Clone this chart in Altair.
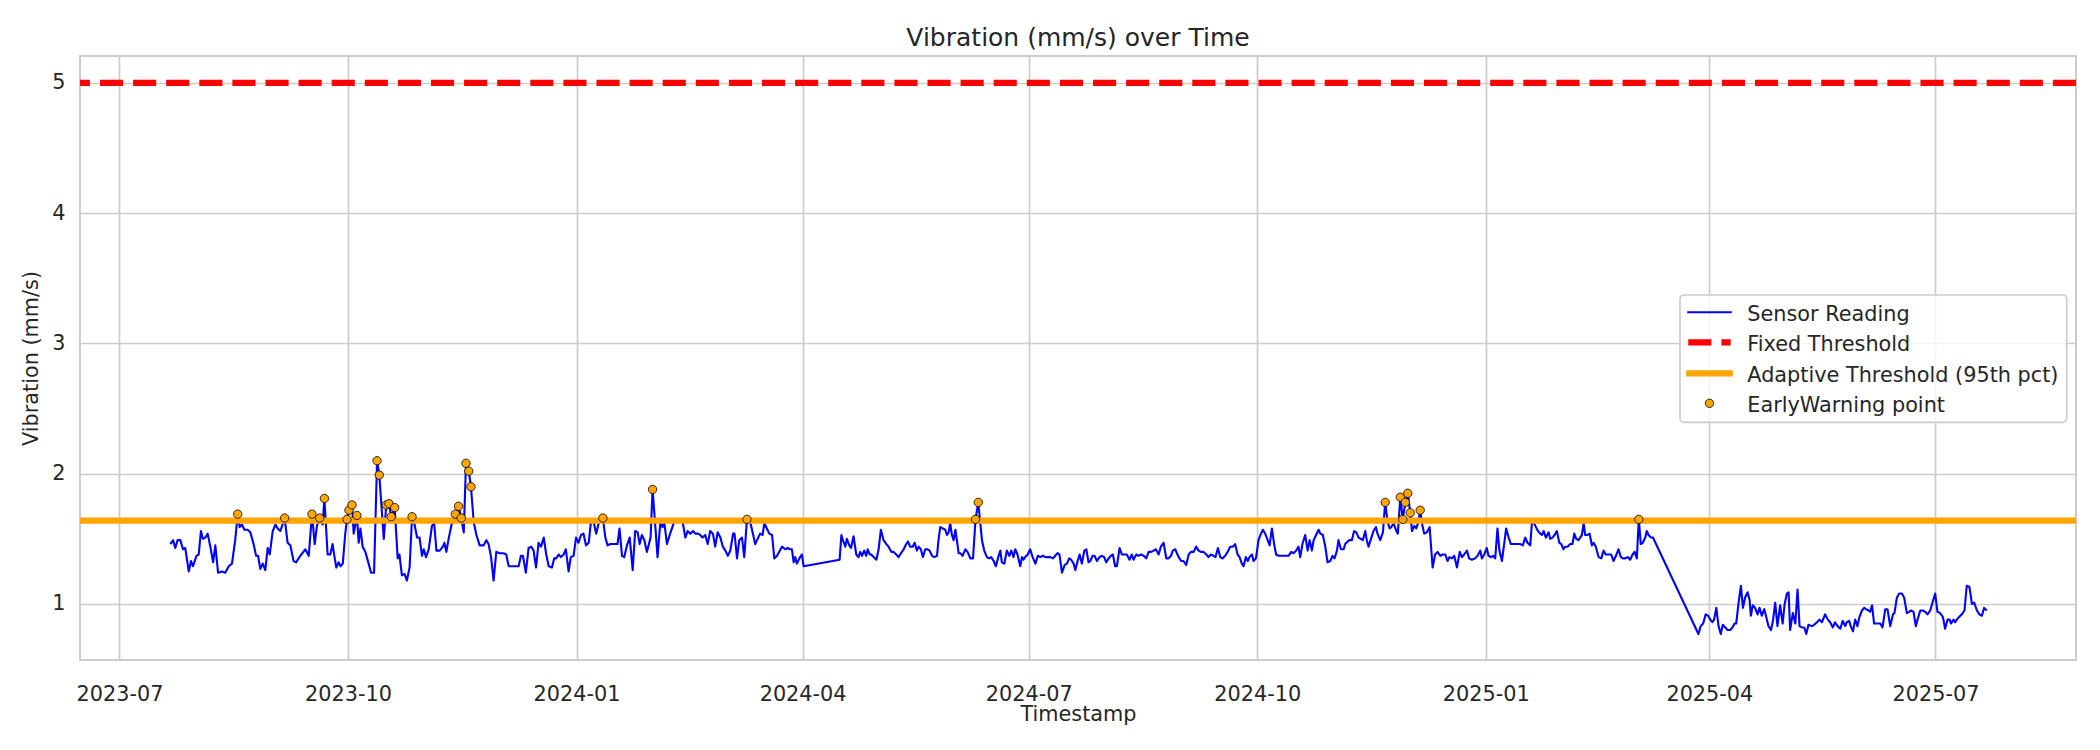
import altair as alt
import pandas as pd

# ---------------- text ----------------
title_text = "Vibration (mm/s) over Time"
x_title = "Timestamp"
y_title = "Vibration (mm/s)"
legend_labels = ["Sensor Reading", "Fixed Threshold",
                 "Adaptive Threshold (95th pct)", "EarlyWarning point"]

# ---------------- thresholds / ticks ----------------
fixed_threshold = 5.0
adaptive_threshold = 1.64
x_tick_labels = ["2023-07", "2023-10", "2024-01", "2024-04", "2024-07",
                 "2024-10", "2025-01", "2025-04", "2025-07"]
y_ticks = [1, 2, 3, 4, 5]

# ---------------- readings (days since 2023-07-01, mm/s) ----------------
base_date = "2023-07-01"

seg1_day = [20.5, 21.6, 22.5, 23.4, 24.5, 25.6, 26.5, 27.9, 28.8, 29.6,
            31.0, 31.9, 32.8, 33.6, 34.6, 35.5, 36.6, 37.7, 38.6, 39.7,
            41.3, 42.6, 44.0, 45.3, 46.6, 47.6, 48.4, 49.3, 50.3, 51.6,
            52.7, 54.0, 55.0, 55.8, 56.7, 57.7, 58.7, 59.7, 60.5, 61.7,
            62.8, 63.7, 64.8, 66.5, 67.7, 68.8, 70.1, 71.1, 72.8, 74.8,
            76.2, 77.5, 78.6, 79.5, 80.6, 81.8, 82.5, 83.8, 84.9, 85.8,
            86.5, 87.3, 88.2, 89.0, 89.9, 90.9, 91.6, 92.4, 93.6, 94.3,
            95.6, 96.3, 97.0, 97.9, 99.0, 100.3, 101.3, 102.5, 103.7, 104.6,
            106.4, 107.4, 108.5, 109.4, 110.8, 112.0, 112.7, 113.7, 114.8, 115.7,
            116.8, 117.8, 118.8, 119.8, 120.8, 121.8, 122.5, 123.4, 124.5, 125.8,
            126.7, 127.6, 128.9, 130.2, 130.8, 131.6, 132.5, 133.9, 135.2, 136.5,
            137.6, 138.6, 139.5, 140.6, 141.5, 142.6, 143.7, 145.0]
seg1_val = [1.46, 1.49, 1.43, 1.49, 1.49, 1.42, 1.43, 1.25, 1.33, 1.29,
            1.37, 1.38, 1.56, 1.50, 1.51, 1.54, 1.44, 1.32, 1.45, 1.24,
            1.25, 1.24, 1.29, 1.31, 1.49, 1.69, 1.59, 1.61, 1.57, 1.57,
            1.55, 1.46, 1.37, 1.37, 1.27, 1.31, 1.26, 1.43, 1.38, 1.56,
            1.61, 1.58, 1.56, 1.66, 1.47, 1.45, 1.33, 1.32, 1.37, 1.42,
            1.37, 1.69, 1.46, 1.60, 1.66, 1.61, 1.81, 1.38, 1.38, 1.46,
            1.37, 1.28, 1.32, 1.29, 1.31, 1.54, 1.65, 1.72, 1.76, 1.54,
            1.68, 1.47, 1.58, 1.44, 1.40, 1.31, 1.24, 1.24, 2.10, 1.99,
            1.50, 1.76, 1.77, 1.67, 1.74, 1.35, 1.38, 1.22, 1.23, 1.18,
            1.28, 1.67, 1.61, 1.51, 1.51, 1.37, 1.42, 1.36, 1.42, 1.60,
            1.62, 1.41, 1.41, 1.44, 1.47, 1.40, 1.50, 1.63, 1.69, 1.75,
            1.66, 1.55, 2.08, 2.02, 1.90, 1.63, 1.53, 1.45]

seg2_day = [146.6, 147.7, 148.6, 149.6, 150.6, 151.7, 153.0, 154.6, 155.7, 156.7,
            158.7, 160.7, 161.6, 162.4, 163.6, 164.7, 165.8, 166.7, 167.7, 168.7,
            169.7, 170.8, 171.8, 172.8, 174.1, 175.0, 175.8, 176.8, 177.7, 178.8,
            179.7, 180.8, 181.7, 182.8, 183.8, 184.8, 185.8, 186.8, 187.8, 188.9,
            189.8, 190.9, 191.9, 192.9, 194.6, 195.6, 196.5, 197.6, 199.6, 200.5,
            201.3, 202.3, 203.2, 204.3, 205.4, 206.6, 207.6, 208.6, 209.4, 210.3,
            211.3, 212.3, 213.0, 213.8, 214.6, 215.7, 216.6, 217.7, 218.6, 219.3,
            220.4, 221.5, 222.4, 223.3, 224.4, 225.8, 226.7, 227.8, 228.7, 229.8,
            230.9, 231.8, 232.9, 233.8, 234.7, 235.8, 236.8, 237.8, 238.9, 239.8,
            240.8, 241.9, 242.9, 243.9, 244.9, 245.9, 247.0, 247.6, 248.6, 249.5,
            250.6, 251.5, 252.6, 253.9, 255.0, 255.9, 256.9, 257.9, 258.9, 259.6,
            260.6, 261.6, 262.7, 263.6, 264.7, 266.7]
seg2_val = [1.45, 1.49, 1.46, 1.36, 1.18, 1.40, 1.39, 1.39, 1.38, 1.29,
            1.29, 1.29, 1.37, 1.37, 1.24, 1.43, 1.44, 1.41, 1.28, 1.47,
            1.44, 1.51, 1.38, 1.29, 1.28, 1.35, 1.35, 1.38, 1.36, 1.38,
            1.42, 1.25, 1.36, 1.37, 1.51, 1.47, 1.53, 1.54, 1.45, 1.47,
            1.63, 1.63, 1.54, 1.62, 1.66, 1.51, 1.45, 1.46, 1.46, 1.46,
            1.58, 1.37, 1.36, 1.45, 1.51, 1.26, 1.56, 1.55, 1.46, 1.53,
            1.49, 1.40, 1.45, 1.51, 1.88, 1.60, 1.36, 1.62, 1.59, 1.63,
            1.46, 1.53, 1.58, 1.63, 1.63, 1.63, 1.63, 1.51, 1.56, 1.54,
            1.56, 1.54, 1.54, 1.53, 1.51, 1.53, 1.46, 1.56, 1.54, 1.44,
            1.55, 1.51, 1.44, 1.41, 1.37, 1.41, 1.54, 1.54, 1.35, 1.49,
            1.51, 1.36, 1.65, 1.63, 1.54, 1.46, 1.50, 1.54, 1.53, 1.62,
            1.58, 1.54, 1.53, 1.35, 1.37, 1.44]

seg3_day = [268.0, 269.0, 270.0, 270.7, 271.4, 272.0, 272.7, 273.7, 274.7, 275.4,
            289.9, 290.6, 291.2, 292.2, 292.8, 293.8, 294.5, 295.5, 296.6, 297.5,
            298.2, 298.9, 299.8, 300.6, 301.2, 302.0, 302.6, 303.6, 304.7, 305.6,
            306.5, 307.6, 308.7, 309.6, 310.7, 311.6, 312.7, 313.6, 314.6, 315.7,
            316.7, 317.4, 318.3, 319.3, 320.1, 321.0, 321.7, 322.6, 323.4, 324.4,
            325.3, 326.1, 327.1, 328.0, 329.1, 329.7, 330.4, 331.4, 332.4, 333.1,
            333.8, 334.4, 335.1, 335.8, 336.5, 337.1, 337.8, 338.5, 339.4, 340.5,
            341.4, 342.5, 343.6, 344.6, 345.7, 347.2, 348.1, 349.2, 350.1, 350.9,
            351.9, 352.8, 353.9, 354.6, 355.2, 356.2, 357.2, 358.2, 359.0, 359.9,
            360.6, 361.5, 362.6, 363.3, 363.9, 364.6, 365.6, 366.6, 367.6, 368.7,
            369.7, 370.7, 371.7, 372.7, 373.7, 374.7, 375.8, 376.7, 377.6, 378.4,
            379.4, 380.5, 381.4, 382.3, 383.1, 384.1, 384.8, 385.7, 386.5, 387.4,
            388.4, 389.2, 390.1, 390.8, 391.7, 392.5, 393.5, 394.5]
seg3_val = [1.42, 1.43, 1.42, 1.42, 1.32, 1.36, 1.31, 1.35, 1.38, 1.29,
            1.34, 1.53, 1.49, 1.44, 1.50, 1.45, 1.43, 1.52, 1.38, 1.36,
            1.40, 1.37, 1.41, 1.37, 1.42, 1.38, 1.38, 1.36, 1.34, 1.42,
            1.57, 1.49, 1.46, 1.44, 1.40, 1.40, 1.38, 1.36, 1.39, 1.42,
            1.46, 1.48, 1.44, 1.44, 1.47, 1.41, 1.44, 1.42, 1.36, 1.42,
            1.42, 1.41, 1.37, 1.36, 1.37, 1.49, 1.59, 1.58, 1.57, 1.53,
            1.55, 1.62, 1.53, 1.49, 1.57, 1.49, 1.39, 1.39, 1.37, 1.42,
            1.40, 1.35, 1.35, 1.65, 1.78, 1.49, 1.41, 1.36, 1.35, 1.36,
            1.33, 1.29, 1.37, 1.41, 1.32, 1.31, 1.41, 1.37, 1.41, 1.36,
            1.42, 1.38, 1.29, 1.36, 1.34, 1.36, 1.38, 1.42, 1.36, 1.31,
            1.37, 1.36, 1.37, 1.36, 1.36, 1.36, 1.35, 1.37, 1.39, 1.38,
            1.24, 1.30, 1.31, 1.35, 1.34, 1.31, 1.26, 1.33, 1.38, 1.31,
            1.41, 1.42, 1.32, 1.33, 1.37, 1.37, 1.33, 1.36]

seg4_day = [395.5, 396.4, 397.2, 398.2, 399.1, 399.9, 400.8, 401.5, 402.6, 403.5,
            404.5, 405.5, 406.6, 407.5, 408.2, 409.3, 410.2, 411.2, 412.3, 413.3,
            414.3, 415.3, 416.3, 417.2, 418.3, 419.2, 420.3, 421.4, 422.3, 423.3,
            424.0, 425.0, 425.9, 426.7, 427.4, 428.3, 429.4, 430.4, 431.3, 432.4,
            433.4, 434.4, 435.3, 436.4, 437.5, 438.4, 439.3, 440.4, 441.2, 442.2,
            443.1, 444.0, 445.1, 446.1, 447.1, 448.2, 449.1, 450.1, 450.9, 451.8,
            452.5, 453.4, 454.2, 454.9, 455.9, 456.5, 457.5, 458.5, 459.5, 460.3,
            461.2, 462.2, 463.0, 463.9, 464.8, 465.6, 466.6, 468.3, 470.6, 471.7,
            472.6, 473.7, 474.6, 475.3, 476.2, 477.3, 478.3, 479.1, 480.0, 480.7,
            481.7, 482.7, 483.4, 484.4, 485.4, 486.3, 487.4, 488.3, 489.1, 490.1,
            490.7, 491.7, 492.8, 493.4, 494.4, 495.2, 496.1, 497.0, 497.9, 498.8,
            499.7, 500.5, 501.5, 502.1, 502.8, 503.8, 504.8, 505.8, 506.4, 507.5,
            508.6, 509.5, 510.5, 511.3, 511.9, 512.9, 513.8, 514.6]
seg4_val = [1.37, 1.36, 1.32, 1.35, 1.37, 1.38, 1.29, 1.29, 1.43, 1.38,
            1.38, 1.38, 1.34, 1.38, 1.34, 1.38, 1.37, 1.38, 1.37, 1.35,
            1.40, 1.40, 1.41, 1.42, 1.38, 1.44, 1.47, 1.35, 1.35, 1.37,
            1.41, 1.42, 1.38, 1.35, 1.33, 1.33, 1.30, 1.38, 1.40, 1.40,
            1.44, 1.41, 1.40, 1.40, 1.38, 1.36, 1.38, 1.37, 1.36, 1.43,
            1.36, 1.35, 1.37, 1.40, 1.44, 1.44, 1.46, 1.38, 1.36, 1.31,
            1.29, 1.36, 1.33, 1.36, 1.38, 1.33, 1.35, 1.49, 1.54, 1.57,
            1.54, 1.49, 1.45, 1.58, 1.46, 1.38, 1.37, 1.37, 1.37, 1.40,
            1.39, 1.41, 1.44, 1.36, 1.46, 1.53, 1.41, 1.49, 1.41, 1.49,
            1.53, 1.57, 1.54, 1.53, 1.44, 1.32, 1.33, 1.37, 1.35, 1.41,
            1.49, 1.42, 1.42, 1.46, 1.48, 1.49, 1.49, 1.56, 1.55, 1.51,
            1.50, 1.49, 1.56, 1.49, 1.44, 1.50, 1.56, 1.59, 1.54, 1.49,
            1.55, 1.78, 1.63, 1.58, 1.59, 1.62, 1.57, 1.54]

seg5_day = [515.6, 516.6, 517.6, 518.6, 519.6, 520.3, 521.2, 522.0, 522.9, 523.6,
            524.3, 525.2, 526.3, 527.4, 528.6, 529.6, 530.6, 531.7, 532.7, 533.7,
            534.6, 535.4, 536.4, 537.3, 538.4, 539.5, 540.4, 541.3, 542.4, 543.3,
            544.4, 545.7, 546.7, 547.8, 548.4, 549.4, 550.4, 551.1, 552.1, 552.9,
            553.8, 554.7, 555.5, 556.5, 557.4, 558.2, 559.2, 560.1, 561.2, 562.5,
            563.9, 564.9, 565.9, 566.8, 567.9, 568.6, 569.2, 570.2, 571.0, 571.9,
            572.6, 573.3, 574.2, 575.3, 575.9, 576.9, 577.7, 578.6, 579.6, 580.4,
            581.3, 582.0, 582.9, 584.0, 584.9, 585.6, 586.4, 587.3, 588.0, 588.7,
            589.4, 590.0, 591.0, 591.8, 592.7, 593.4, 594.3, 595.4, 596.5, 597.4,
            598.3, 599.4, 600.5, 601.4, 602.4, 603.4, 604.4, 605.2, 606.1, 607.1,
            608.1, 609.1, 609.9, 610.8, 611.6, 612.4, 613.2, 614.2, 614.8, 615.5,
            616.5, 617.3]
seg5_val = [1.82, 1.65, 1.78, 1.85, 1.70, 1.56, 1.60, 1.58, 1.63, 1.72,
            1.62, 1.54, 1.55, 1.59, 1.28, 1.38, 1.40, 1.37, 1.38, 1.38,
            1.33, 1.36, 1.35, 1.37, 1.28, 1.40, 1.36, 1.38, 1.41, 1.35,
            1.34, 1.35, 1.37, 1.41, 1.35, 1.38, 1.43, 1.37, 1.36, 1.37,
            1.35, 1.58, 1.41, 1.33, 1.46, 1.58, 1.51, 1.46, 1.46, 1.46,
            1.46, 1.45, 1.51, 1.47, 1.45, 1.63, 1.63, 1.59, 1.56, 1.54,
            1.53, 1.56, 1.51, 1.55, 1.50, 1.51, 1.53, 1.56, 1.47, 1.46,
            1.42, 1.44, 1.44, 1.46, 1.46, 1.54, 1.50, 1.49, 1.51, 1.53,
            1.62, 1.53, 1.53, 1.54, 1.45, 1.47, 1.44, 1.36, 1.35, 1.41,
            1.38, 1.38, 1.38, 1.33, 1.37, 1.42, 1.36, 1.35, 1.35, 1.36,
            1.34, 1.38, 1.40, 1.35, 1.65, 1.46, 1.47, 1.51, 1.56, 1.53,
            1.51, 1.51]

seg6_day = [635.6, 636.5, 637.5, 638.5, 639.5, 640.4, 641.2, 641.9, 642.8, 643.7,
            644.6, 645.4, 646.4, 647.3, 648.4, 649.3, 650.1, 650.8, 651.7, 652.7,
            653.5, 654.4, 655.4, 656.2, 656.7, 657.5, 658.4, 659.4, 660.2, 661.1,
            662.1, 662.9, 663.8, 664.8, 665.6, 666.5, 667.4, 668.5, 669.5, 670.3,
            671.2, 671.9, 672.5, 673.6, 674.6, 675.5, 676.3, 677.2, 678.2, 679.0,
            679.9, 681.3, 682.2, 683.3, 684.3, 685.3, 686.6, 687.7, 688.6, 689.7,
            690.6, 691.6, 692.7, 693.7, 694.7, 695.3, 696.3, 696.9, 697.8, 698.7,
            699.6, 700.4, 701.4, 702.3, 703.1, 704.1, 704.7, 705.5, 706.3, 707.4,
            708.8, 709.7, 710.8, 711.7, 712.8, 713.9, 714.5, 715.5, 716.4, 717.5,
            718.4, 719.5, 720.4, 721.2, 722.2, 723.1, 723.8, 724.9, 725.9, 726.9,
            727.8, 728.9, 729.8, 730.9, 731.8, 732.9, 734.0, 734.9, 735.9, 736.7,
            737.3, 738.3, 738.9, 739.6, 741.0, 741.6, 742.7, 743.6, 744.7, 745.7,
            746.6, 747.7, 748.7, 749.7, 750.6, 751.7]
seg6_val = [0.77, 0.83, 0.85, 0.92, 0.91, 0.88, 0.86, 0.88, 0.97, 0.83,
            0.77, 0.84, 0.82, 0.80, 0.80, 0.82, 0.85, 0.85, 1.00, 1.14,
            0.97, 1.05, 1.09, 1.03, 0.91, 0.99, 0.97, 0.92, 0.97, 0.91,
            0.96, 0.90, 0.83, 0.80, 0.87, 1.01, 0.83, 0.99, 0.85, 1.00,
            1.08, 1.09, 0.80, 0.93, 0.85, 1.11, 0.83, 0.82, 0.82, 0.77,
            0.84, 0.83, 0.84, 0.86, 0.88, 0.86, 0.92, 0.88, 0.86, 0.82,
            0.86, 0.83, 0.81, 0.87, 0.83, 0.86, 0.87, 0.83, 0.79, 0.88,
            0.83, 0.90, 0.95, 0.97, 0.96, 0.95, 0.94, 0.99, 0.85, 0.85,
            0.85, 0.82, 0.96, 0.96, 0.83, 0.92, 0.93, 1.05, 1.08, 1.08,
            1.05, 0.93, 0.94, 0.95, 0.94, 0.83, 0.88, 0.95, 0.95, 0.94,
            0.92, 0.95, 1.01, 1.08, 0.94, 0.93, 0.90, 0.81, 0.88, 0.88,
            0.85, 0.88, 0.86, 0.88, 0.91, 0.92, 0.95, 1.14, 1.13, 1.00,
            1.01, 0.95, 0.92, 0.91, 0.97, 0.95]

# ---------------- tables ----------------
day_offset = seg1_day + seg2_day + seg3_day + seg4_day + seg5_day + seg6_day
vibration = seg1_val + seg2_val + seg3_val + seg4_val + seg5_val + seg6_val

df = pd.DataFrame({"day": day_offset, "vibration": vibration})
df["timestamp"] = pd.Timestamp(base_date) + pd.to_timedelta(df["day"], unit="D")
df = df[["timestamp", "vibration"]]
warn_df = df[df["vibration"] > adaptive_threshold]
fixed_df = pd.DataFrame({"vibration": [fixed_threshold]})
adapt_df = pd.DataFrame({"vibration": [adaptive_threshold]})

# ---------------- style ----------------
FONT = "DejaVu Sans"
TEXT = "#262626"
GRID = "#cccccc"
BLUE = "#0000ff"
RED = "#ff0000"
ORANGE = "#ffa500"


def dt(label, day=1, hours=0):
    return alt.DateTime(year=int(label[:4]), month=int(label[5:7]), date=day, hours=hours)


x_scale = alt.Scale(domain=[dt("2023-06", 15, 3), dt("2025-08", 26, 14)])
y_scale = alt.Scale(domain=[0.57, 5.207], nice=False, zero=False)

x_axis = alt.Axis(title=x_title, values=[dt(s) for s in x_tick_labels], format="%Y-%m",
                  labelAngle=0, labelFlush=False, labelOverlap=False, labelPadding=24,
                  titlePadding=1)
y_axis = alt.Axis(title=y_title, values=y_ticks, format="d", labelPadding=15,
                  titlePadding=10, labelFlush=False, labelOverlap=False)

x_enc = alt.X("timestamp:T", scale=x_scale, axis=x_axis)
y_enc = alt.Y("vibration:Q", scale=y_scale, axis=y_axis)

line = alt.Chart(df).mark_line(color=BLUE, strokeWidth=2.1, strokeJoin="round").encode(
    x=x_enc, y=y_enc)

fixed = alt.Chart(fixed_df).mark_rule(color=RED, strokeWidth=6.25, strokeDash=[23.1, 10]).encode(
    y=alt.Y("vibration:Q", scale=y_scale, axis=y_axis))

adaptive = alt.Chart(adapt_df).mark_rule(color=ORANGE, strokeWidth=6.25).encode(
    y=alt.Y("vibration:Q", scale=y_scale, axis=y_axis))

points = alt.Chart(warn_df).mark_circle(color=ORANGE, size=70, opacity=1,
                                        stroke="#000000", strokeWidth=0.8).encode(
    x=x_enc, y=y_enc)

# ---------------- legend (upper right, drawn in plot coordinates) ----------------
lx0, lx1 = 1608.3, 1650.7
ltext = 1667.3
rows_y = [256.3, 286.3, 317.3, 347.3]
text_shift = 2.5

leg_frame = alt.Chart().mark_rect(fill="white", fillOpacity=0.8, stroke=GRID,
                                  strokeWidth=1.7, cornerRadius=4).encode(
    x=alt.value(1600), x2=alt.value(1986.7), y=alt.value(239), y2=alt.value(366.3))

leg_sym = [
    alt.Chart().mark_rule(color=BLUE, strokeWidth=2.1, strokeCap="square").encode(
        x=alt.value(lx0), x2=alt.value(lx1), y=alt.value(rows_y[0])),
    alt.Chart().mark_rule(color=RED, strokeWidth=6.25, strokeDash=[23.1, 10]).encode(
        x=alt.value(lx0), x2=alt.value(lx1), y=alt.value(rows_y[1])),
    alt.Chart().mark_rule(color=ORANGE, strokeWidth=6.25, strokeCap="square").encode(
        x=alt.value(lx0 + 1), x2=alt.value(lx1 - 1), y=alt.value(rows_y[2])),
    alt.Chart().mark_circle(color=ORANGE, size=70, opacity=1, stroke="#000000",
                            strokeWidth=0.8).encode(
        x=alt.value((lx0 + lx1) / 2), y=alt.value(rows_y[3])),
]
leg_txt = [
    alt.Chart().mark_text(text=lab, align="left", baseline="middle", font=FONT,
                          fontSize=20.8, color=TEXT).encode(
        x=alt.value(ltext), y=alt.value(yy + text_shift))
    for lab, yy in zip(legend_labels, rows_y)
]

chart = alt.layer(line, fixed, adaptive, points, leg_frame, *leg_sym, *leg_txt).properties(
    width=1996,
    height=604,
    title=alt.TitleParams(text=title_text, fontSize=25, font=FONT, color=TEXT,
                          fontWeight="normal", anchor="middle", offset=5),
    padding={"left": 80, "top": 56, "right": 24, "bottom": 90},
    autosize=alt.AutoSizeParams(type="none"),
).configure(background="white").configure_view(
    stroke=GRID, strokeWidth=2
).configure_axis(
    labelFont=FONT, labelFontSize=20.8, labelColor=TEXT,
    titleFont=FONT, titleFontSize=20.8, titleColor=TEXT, titleFontWeight="normal",
    grid=True, gridColor=GRID, gridWidth=1.7, domain=False, ticks=False,
)

chart.save("out.html", embed_options={"renderer": "svg", "actions": False})
